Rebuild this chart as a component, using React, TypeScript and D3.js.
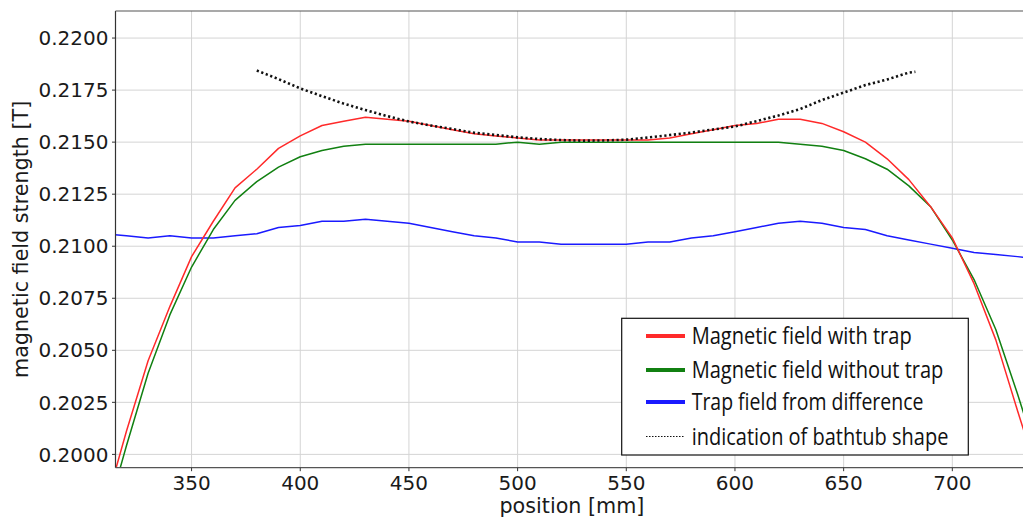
import React, { useEffect, useRef } from "react";
import * as d3 from "d3";

const positions = [310, 320, 330, 340, 350, 360, 370, 380, 390, 400, 410, 420, 430, 440, 450, 460, 470, 480, 490, 500, 510, 520, 530, 540, 550, 560, 570, 580, 590, 600, 610, 620, 630, 640, 650, 660, 670, 680, 690, 700, 710, 720, 730, 740];

const withTrap = [0.1974, 0.2011, 0.2045, 0.2071, 0.2095, 0.2112, 0.2128, 0.2137, 0.2147, 0.2153, 0.2158, 0.2160, 0.2162, 0.2161, 0.2160, 0.2158, 0.2156, 0.2154, 0.2153, 0.2152, 0.2151, 0.2151, 0.2151, 0.2151, 0.2151, 0.2151, 0.2152, 0.2154, 0.2156, 0.2158, 0.2159, 0.2161, 0.2161, 0.2159, 0.2155, 0.2150, 0.2142, 0.2132, 0.2119, 0.2104, 0.2082, 0.2055, 0.2021, 0.1988];

const withoutTrap = [0.1967, 0.2004, 0.2039, 0.2067, 0.2090, 0.2108, 0.2122, 0.2131, 0.2138, 0.2143, 0.2146, 0.2148, 0.2149, 0.2149, 0.2149, 0.2149, 0.2149, 0.2149, 0.2149, 0.2150, 0.2149, 0.2150, 0.2150, 0.2150, 0.2150, 0.2150, 0.2150, 0.2150, 0.2150, 0.2150, 0.2150, 0.2150, 0.2149, 0.2148, 0.2146, 0.2142, 0.2137, 0.2129, 0.2119, 0.2103, 0.2084, 0.2060, 0.2029, 0.1996];

const trapField = [0.2106, 0.2105, 0.2104, 0.2105, 0.2104, 0.2104, 0.2105, 0.2106, 0.2109, 0.2110, 0.2112, 0.2112, 0.2113, 0.2112, 0.2111, 0.2109, 0.2107, 0.2105, 0.2104, 0.2102, 0.2102, 0.2101, 0.2101, 0.2101, 0.2101, 0.2102, 0.2102, 0.2104, 0.2105, 0.2107, 0.2109, 0.2111, 0.2112, 0.2111, 0.2109, 0.2108, 0.2105, 0.2103, 0.2101, 0.2099, 0.2097, 0.2096, 0.2095, 0.2094];

const bathPositions = [380, 390, 400, 410, 420, 430, 440, 450, 460, 470, 480, 490, 500, 510, 520, 530, 540, 550, 560, 570, 580, 590, 600, 610, 620, 630, 640, 650, 660, 670, 680, 683];
const bathtub = [0.21844, 0.21803, 0.21758, 0.21721, 0.21685, 0.21654, 0.21625, 0.21599, 0.21580, 0.21563, 0.21545, 0.21534, 0.21523, 0.21515, 0.21510, 0.21507, 0.21508, 0.21512, 0.21522, 0.21534, 0.21546, 0.21561, 0.21575, 0.21601, 0.21628, 0.21659, 0.21702, 0.21738, 0.21774, 0.21801, 0.21834, 0.21838];

const xTicks = [350, 400, 450, 500, 550, 600, 650, 700];
const yTicks = [0.2000, 0.2025, 0.2050, 0.2075, 0.2100, 0.2125, 0.2150, 0.2175, 0.2200];

const legendLabels = ["Magnetic field with trap", "Magnetic field without trap", "Trap field from difference", "indication of bathtub shape"];
const legendColors = ["#ff2a2a", "#118011", "#1a1aff", "#111111"];

export default function App() {
  const ref = useRef<SVGSVGElement>(null);

  useEffect(() => {
    const svg = d3.select(ref.current);
    svg.selectAll("*").remove();
    const W = 1023, H = 519;
    const left = 115.5, right = 1028.4, top = 11, bottom = 467.7;
    const x = d3.scaleLinear().domain([315, 735]).range([left, right]);
    const y = d3.scaleLinear().domain([0.19936, 0.2213]).range([bottom, top]);
    const font = "'DejaVu Sans', sans-serif";

    svg.append("rect").attr("width", W).attr("height", H).attr("fill", "white");

    const defs = svg.append("defs");
    defs.append("clipPath").attr("id", "plotclip")
      .append("rect").attr("x", left).attr("y", top).attr("width", right - left).attr("height", bottom - top);

    // grid
    const grid = svg.append("g").attr("stroke", "#d4d4d4").attr("stroke-width", 1);
    xTicks.forEach(t => {
      grid.append("line").attr("x1", x(t)).attr("x2", x(t)).attr("y1", top).attr("y2", bottom);
    });
    yTicks.forEach(t => {
      grid.append("line").attr("x1", left).attr("x2", right).attr("y1", y(t)).attr("y2", y(t));
    });

    const plot = svg.append("g").attr("clip-path", "url(#plotclip)");
    const line = d3.line<[number, number]>().x(d => x(d[0])).y(d => y(d[1]));
    const series: [number[], number[], string][] = [
      [positions, withTrap, legendColors[0]],
      [positions, withoutTrap, legendColors[1]],
      [positions, trapField, legendColors[2]],
    ];
    [series[2], series[1], series[0]].forEach(([xs, ys, c]) => {
      plot.append("path")
        .attr("d", line(xs.map((v, i) => [v, ys[i]] as [number, number])))
        .attr("fill", "none").attr("stroke", c).attr("stroke-width", 1.5).attr("stroke-linejoin", "round");
    });
    plot.append("path")
      .attr("d", line(bathPositions.map((v, i) => [v, bathtub[i]] as [number, number])))
      .attr("fill", "none").attr("stroke", "#111").attr("stroke-width", 2.6)
      .attr("stroke-dasharray", "2.2,2.6");

    // spines
    svg.append("line").attr("x1", left).attr("x2", left).attr("y1", top).attr("y2", bottom)
      .attr("stroke", "#333").attr("stroke-width", 1.2);
    svg.append("line").attr("x1", left).attr("x2", right).attr("y1", bottom).attr("y2", bottom)
      .attr("stroke", "#555").attr("stroke-width", 1.2);
    svg.append("line").attr("x1", left).attr("x2", right).attr("y1", top).attr("y2", top)
      .attr("stroke", "#555").attr("stroke-width", 1.2);

    // ticks
    const ty = svg.append("g");
    yTicks.forEach(t => {
      ty.append("line").attr("x1", left - 3.5).attr("x2", left).attr("y1", y(t)).attr("y2", y(t)).attr("stroke", "#333");
      ty.append("text").attr("x", left - 7).attr("y", y(t)).attr("dy", "0.36em")
        .attr("text-anchor", "end").attr("font-family", font).attr("font-size", 20).attr("fill", "#1a1a1a")
        .text(d3.format(".4f")(t));
    });
    const tx = svg.append("g");
    xTicks.forEach(t => {
      tx.append("line").attr("x1", x(t)).attr("x2", x(t)).attr("y1", bottom).attr("y2", bottom + 3.5).attr("stroke", "#333");
      tx.append("text").attr("x", x(t)).attr("y", 490)
        .attr("text-anchor", "middle").attr("font-family", font).attr("font-size", 20).attr("fill", "#1a1a1a")
        .text(String(t));
    });

    svg.append("text").attr("x", (left + right) / 2).attr("y", 513)
      .attr("text-anchor", "middle").attr("font-family", font).attr("font-size", 20.7).attr("fill", "#1a1a1a")
      .text("position [mm]");
    svg.append("text").attr("transform", `translate(28,${(top + bottom) / 2}) rotate(-90)`)
      .attr("text-anchor", "middle").attr("font-family", font).attr("font-size", 20.7).attr("fill", "#1a1a1a")
      .text("magnetic field strength [T]");

    // legend
    const lg = svg.append("g");
    lg.append("rect").attr("x", 621.7).attr("y", 318.3).attr("width", 346.6).attr("height", 136.7)
      .attr("fill", "white").attr("stroke", "#111").attr("stroke-width", 1.2);
    const rowY = [336, 370, 402, 436.5];
    const textLens = [220, 251.7, 231.7, 256.7];
    legendLabels.forEach((lab, i) => {
      const hl = lg.append("line").attr("x1", 646).attr("x2", 685).attr("y1", rowY[i]).attr("y2", rowY[i])
        .attr("stroke", legendColors[i]);
      if (i < 3) hl.attr("stroke-width", 4);
      else hl.attr("stroke-width", 1.2).attr("stroke-dasharray", "1.5,1.5");
      lg.append("text").attr("x", 691.7).attr("y", rowY[i]).attr("dy", "0.34em")
        .attr("font-family", "'Open Sans', 'Noto Sans', sans-serif").attr("font-size", 24).attr("fill", "#111")
        .attr("textLength", textLens[i]).attr("lengthAdjust", "spacingAndGlyphs")
        .text(lab);
    });
  }, []);

  return (
    <svg ref={ref} width={1023} height={519} style={{ position: "absolute", left: 0, top: 0, display: "block" }} />
  );
}
